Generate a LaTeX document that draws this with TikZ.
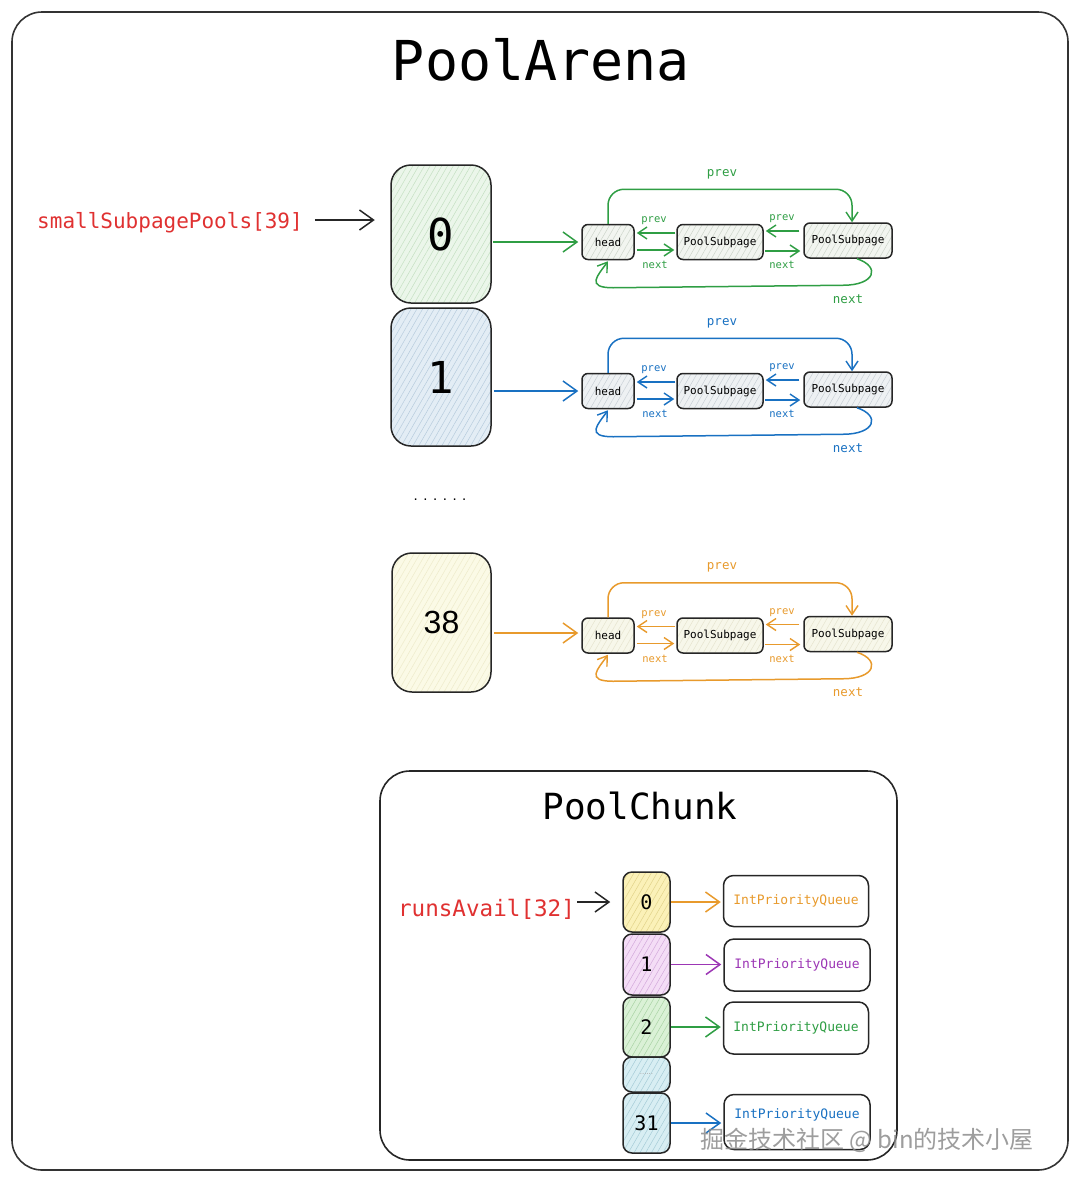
\documentclass[tikz,border=0pt]{standalone}
\usepackage{fontspec}
\usetikzlibrary{arrows.meta,patterns.meta,calc}
\newfontfamily\hand{DejaVu Sans Mono}
\newfontfamily\hsans{Liberation Sans}
\newfontfamily\cjk{Noto Sans CJK SC}
\definecolor{cgreen}{HTML}{2F9E44}
\definecolor{cblue}{HTML}{1971C2}
\definecolor{corange}{HTML}{E89A2C}
\definecolor{cpurple}{HTML}{9C36B5}
\definecolor{cred}{HTML}{E03131}
\definecolor{fgreen}{HTML}{EBF6EA}
\definecolor{hgreen}{HTML}{C4E0C2}
\definecolor{fblue}{HTML}{E3EDF5}
\definecolor{hblue}{HTML}{B7CCDD}
\definecolor{fcream}{HTML}{FBFAE6}
\definecolor{hcream}{HTML}{EEEBCB}
\definecolor{fl0}{HTML}{F2F5F0}
\definecolor{hl0}{HTML}{CDD5CA}
\definecolor{fl1}{HTML}{EEF1F3}
\definecolor{hl1}{HTML}{C9D0D6}
\definecolor{fl2}{HTML}{F7F7EA}
\definecolor{hl2}{HTML}{E6E4CF}
\definecolor{fc0}{HTML}{FBF1B8}
\definecolor{hc0}{HTML}{E2D38A}
\definecolor{fc1}{HTML}{F4DDF6}
\definecolor{hc1}{HTML}{D3A9DB}
\definecolor{fc2}{HTML}{DAF1D6}
\definecolor{hc2}{HTML}{A9D3A4}
\definecolor{fc3}{HTML}{D8EEF3}
\definecolor{hc3}{HTML}{A6CCD7}
\tikzset{
  hatch/.style 2 args={preaction={fill=#1},
    pattern={Lines[angle=60,distance=5pt,line width=0.5pt]}, pattern color=#2},
  rbox/.style={draw=black!85, line width=1.5pt, rounded corners=#1},
  rbox/.default=8pt,
  myarrow/.style={draw=#1, line width=1.5pt,
    -{Straight Barb[length=9pt,width=12pt,line width=1.4pt]}},
  bigarrow/.style={draw=#1, line width=1.6pt,
    -{Straight Barb[length=14pt,width=20pt,line width=1.5pt]}},
  lbox/.style 2 args={rbox=6pt, hatch={#1}{#2}, minimum height=35pt,
    inner sep=0pt, font=\hand\fontsize{11}{12}\selectfont},
  lab/.style={text=#1, inner sep=0pt, font=\hand\fontsize{10.5}{12}\selectfont},
  blab/.style={text=#1, inner sep=0pt, font=\hand\fontsize{12.5}{14}\selectfont},
  abox/.style 2 args={rbox=20pt, hatch={#1}{#2}, minimum width=100pt,
    minimum height=138pt, inner sep=0pt},
  cell/.style 2 args={rbox=9pt, hatch={#1}{#2}, minimum width=47pt,
    inner sep=0pt, font=\hand\fontsize{20}{22}\selectfont},
  qbox/.style={rbox=10pt, minimum width=145pt, minimum height=51pt,
    inner sep=0pt, font=\hand\fontsize{13}{15}\selectfont},
}
\newcommand\subplist[5]{%
  \node[lbox={#4}{#5}, minimum width=52pt] (#1h) at (608,#2) {head};
  \node[lbox={#4}{#5}, minimum width=86pt] (#1a) at (720,#2) {PoolSubpage};
  \node[lbox={#4}{#5}, minimum width=88pt] (#1b) at (848,#2+1.5) {PoolSubpage};
  % head <-> first subpage
  \draw[myarrow=#3, shorten <=1pt, shorten >=2pt]
    ($(#1a.west)+(0,9)$) -- ($(#1h.east)+(0,9)$);
  \draw[myarrow=#3, shorten <=2pt, shorten >=2pt]
    ($(#1h.east)+(0,-8)$) -- ($(#1a.west)+(0,-8)$);
  \node[lab=#3] (#1p1) at (654,#2+21) {prev};
  \node[lab=#3] (#1n1) at (655,#2-23) {next};
  % first <-> second subpage
  \draw[myarrow=#3, shorten <=4pt, shorten >=2pt]
    ($(#1b.west)+(0,9.5)$) -- ($(#1a.east)+(0,11)$);
  \draw[myarrow=#3, shorten <=1pt, shorten >=3pt]
    ($(#1a.east)+(0,-9)$) -- ($(#1b.west)+(0,-10.5)$);
  \node[lab=#3] (#1p2) at (782,#2+23) {prev};
  \node[lab=#3] (#1n2) at (782,#2-23) {next};
  % outer prev arc
  \draw[myarrow=#3, rounded corners=16pt]
    (#1h.north) |- ($(#1b.north)+(4,33)$) -- ($(#1b.north)+(4,0)$);
  \node[blab=#3] (#1p3) at (722,#2+68) {prev};
  % outer next arc
  \draw[myarrow=#3]
    ($(#1b.south)+(9,0)$) .. controls +(24,-8) and +(32,0) ..
    ($(#1b.south)+(-5,-26.5)$) -- ($(#1h.south)+(5,-27.5)$)
    .. controls +(-28,0) and +(-10,-14) .. ($(#1h.south)+(0,-1)$);
  \node[blab=#3] (#1n3) at (848,#2-57) {next};
}
\begin{document}
\begin{tikzpicture}[x=1pt,y=1pt]
\useasboundingbox (0,0) rectangle (1080,-1181);
\fill[white] (0,0) rectangle (1080,-1181);
% outer frame
\draw[draw=black!80, line width=1.6pt, rounded corners=30pt]
  (12,-12) rectangle (1068,-1170);
\node[font=\hand\fontsize{55}{60}\selectfont, inner sep=0pt] (title) at (541,-60) {PoolArena};

% array boxes
\node[abox={fgreen}{hgreen}, font=\hand\fontsize{44}{50}\selectfont] (b0) at (441,-234) {0};
\node[abox={fblue}{hblue}, font=\hand\fontsize{44}{50}\selectfont] (b1) at (441,-377) {1};
\node[abox={fcream}{hcream}, minimum width=99pt, minimum height=139pt,
  font=\hsans\fontsize{32}{36}\selectfont] (b38) at (441.5,-622.5) {38};
\node[font=\hsans\fontsize{15}{16}\selectfont, inner sep=0pt] (dots) at (440,-500) {. . . . . .};

\node[text=cred, inner sep=0pt, font=\hand\fontsize{21}{24}\selectfont] (ssp) at (170,-223) {smallSubpagePools[39]};
\draw[bigarrow=black!85, shorten <=12pt, shorten >=16pt] (ssp.east |- 0,-220) -- (b0.west |- 0,-220);

% lists
\subplist{g}{-242}{cgreen}{fl0}{hl0}
\subplist{u}{-391}{cblue}{fl1}{hl1}
\subplist{o}{-635.5}{corange}{fl2}{hl2}

\draw[bigarrow=cgreen, shorten <=2pt, shorten >=3pt] (b0.east |- gh.west) -- (gh.west);
\draw[bigarrow=cblue, shorten <=2pt, shorten >=3pt] (b1.east |- uh.west) -- (uh.west);
\draw[bigarrow=corange, shorten <=2pt, shorten >=3pt] (b38.east |- 0,-633) -- (oh.west |- 0,-633);

% PoolChunk
\draw[draw=black!85, line width=1.6pt, rounded corners=30pt]
  (380,-771) rectangle (897,-1160);
\node[font=\hand\fontsize{36}{40}\selectfont, inner sep=0pt] (pctitle) at (640,-806) {PoolChunk};
\node[text=cred, inner sep=0pt, font=\hand\fontsize{22.6}{26}\selectfont] (ra) at (486.5,-909) {runsAvail[32]};

\node[cell={fc0}{hc0}, minimum height=60pt] (c0) at (646.5,-902) {0};
\node[cell={fc1}{hc1}, minimum height=61pt] (c1) at (646.5,-964.5) {1};
\node[cell={fc2}{hc2}, minimum height=60pt] (c2) at (646.5,-1027) {2};
\node[cell={fc3}{hc3}, minimum height=35pt, font=\hsans\fontsize{8}{9}\selectfont, text=black!35] (c3) at (646.5,-1074.5) {......};
\node[cell={fc3}{hc3}, minimum height=60pt] (c31) at (646.5,-1123) {31};

\draw[bigarrow=black!85, line width=1.3pt, shorten <=2pt, shorten >=12pt] (ra.east |- c0.west) -- (c0.west);

\node[qbox, text=corange] (q0) at (796,-901) {IntPriorityQueue};
\node[qbox, text=cpurple, minimum width=146pt, minimum height=52pt] (q1) at (797,-965) {IntPriorityQueue};
\node[qbox, text=cgreen, minimum height=52pt] (q2) at (796,-1028) {IntPriorityQueue};
\node[qbox, text=cblue, minimum width=146pt, minimum height=55pt, text depth=16pt] (q31) at (797,-1122) {IntPriorityQueue};

\draw[bigarrow=corange, line width=1.3pt, shorten >=2pt] (c0.east) -- (c0.east -| q0.west);
\draw[bigarrow=cpurple, line width=1.3pt, shorten >=2pt] (c1.east) -- (c1.east -| q1.west);
\draw[bigarrow=cgreen, line width=1.3pt, shorten >=2pt] (c2.east) -- (c2.east -| q2.west);
\draw[bigarrow=cblue, line width=1.3pt, shorten >=2pt] (c31.east) -- (c31.east -| q31.west);

% watermark
\node[text=black!45, opacity=0.85, inner sep=0pt, font=\cjk\fontsize{24}{28}\selectfont, anchor=west] (wm) at (700,-1140) {掘金技术社区 @ bin的技术小屋};
\end{tikzpicture}
\end{document}
